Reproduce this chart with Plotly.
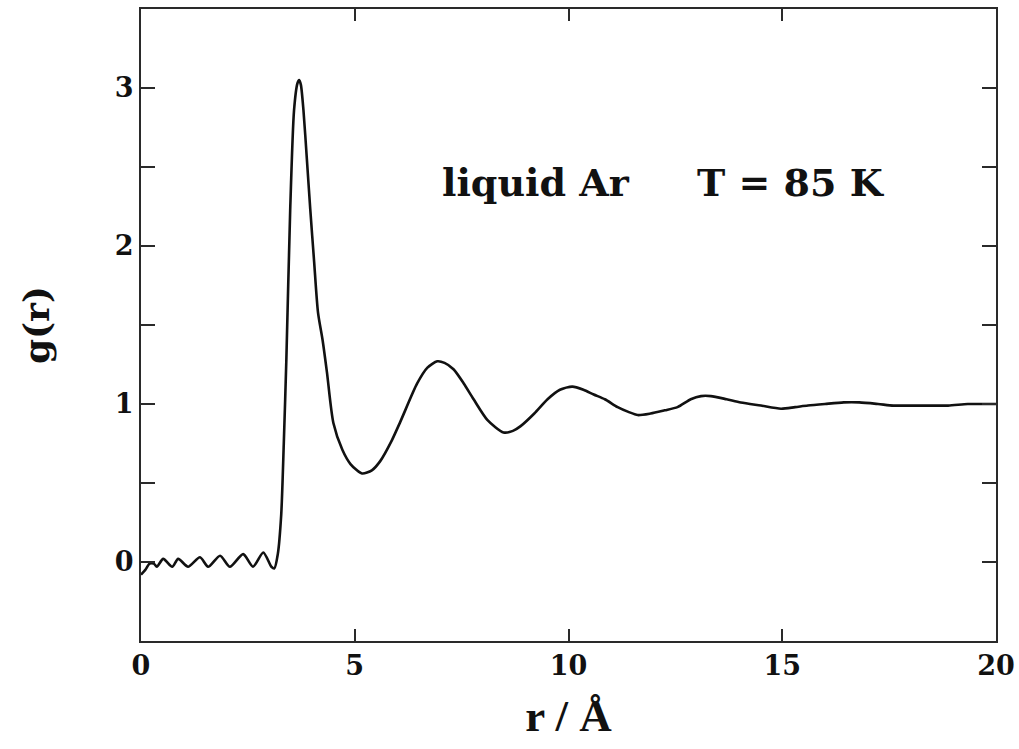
import plotly.graph_objects as go

# Radial distribution function of liquid argon at 85 K
r_vals = [0.00, 0.10, 0.20, 0.30, 0.37, 0.52, 0.73, 0.87, 1.10, 1.38, 1.57, 1.85,
          2.08, 2.39, 2.62, 2.86, 3.05, 3.12, 3.20, 3.28, 3.34, 3.40, 3.49, 3.58,
          3.66, 3.70, 3.74, 3.80, 3.88, 3.96, 4.05, 4.14, 4.25, 4.35, 4.50, 4.71,
          4.90, 5.17, 5.40, 5.60, 5.85, 6.07, 6.46, 6.70, 6.93, 7.10, 7.31, 7.55,
          7.78, 8.10, 8.48, 8.70, 8.88, 9.20, 9.51, 9.80, 10.09, 10.35, 10.59, 10.85,
          11.15, 11.40, 11.62, 11.92, 12.25, 12.55, 12.86, 13.10, 13.33, 13.70, 14.03,
          14.50, 14.97, 15.30, 15.60, 16.00, 16.44, 16.80, 17.24, 17.60, 17.94, 18.40,
          18.88, 19.34, 19.70, 20.00]
g_vals = [-0.08, -0.05, -0.01, -0.01, -0.03, 0.02, -0.03, 0.02, -0.03, 0.03, -0.03, 0.04,
          -0.03, 0.05, -0.03, 0.06, -0.03, -0.04, 0.05, 0.30, 0.75, 1.28, 2.23, 2.86,
          3.03, 3.05, 3.02, 2.86, 2.55, 2.23, 1.90, 1.58, 1.40, 1.20, 0.88, 0.71,
          0.62, 0.56, 0.58, 0.64, 0.76, 0.89, 1.13, 1.23, 1.27, 1.26, 1.22, 1.13,
          1.03, 0.90, 0.82, 0.83, 0.86, 0.94, 1.03, 1.09, 1.11, 1.09, 1.06, 1.03,
          0.98, 0.95, 0.93, 0.94, 0.96, 0.98, 1.03, 1.05, 1.05, 1.03, 1.01,
          0.99, 0.97, 0.98, 0.99, 1.00, 1.01, 1.01, 1.00, 0.99, 0.99, 0.99,
          0.99, 1.00, 1.00, 1.00]

x_ticks = [0, 5, 10, 15, 20]
y_ticks = [-0.5, 0, 0.5, 1, 1.5, 2, 2.5, 3, 3.5]
y_labels = ["", "0", "", "1", "", "2", "", "3", ""]

FONT = "DejaVu Serif"
TITLE_FONT = "Liberation Serif"
AXIS_COLOR = "#2a2a2a"

fig = go.Figure()
fig.add_trace(go.Scatter(
    x=r_vals, y=g_vals, mode="lines",
    line=dict(color="#111111", width=2.6, shape="spline", smoothing=0.7),
    showlegend=False, hoverinfo="skip",
))

fig.add_annotation(text="<b>liquid Ar</b>", x=0.35, y=0.725, xref="paper", yref="paper",
                   xanchor="left", yanchor="middle", showarrow=False,
                   font=dict(family=FONT, size=38, color="#111111"))
fig.add_annotation(text="<b>T = 85 K</b>", x=0.648, y=0.725, xref="paper", yref="paper",
                   xanchor="left", yanchor="middle", showarrow=False,
                   font=dict(family=FONT, size=38, color="#111111"))

fig.update_layout(
    width=1019, height=749,
    margin=dict(l=141, r=23, t=9, b=108),
    paper_bgcolor="white", plot_bgcolor="white",
    font=dict(family=FONT, color="#111111"),
    xaxis=dict(
        range=[0, 20], tickvals=x_ticks, ticks="inside", ticklen=12, tickwidth=2,
        tickcolor=AXIS_COLOR, showline=True, linecolor=AXIS_COLOR, linewidth=2,
        mirror="allticks", showgrid=False, zeroline=False, automargin=False,
        tickfont=dict(family=FONT, size=27, weight="bold"),
        title=dict(text="<b>r / Å</b>", font=dict(family=TITLE_FONT, size=45), standoff=19),
    ),
    yaxis=dict(
        range=[-0.5, 3.5], tickvals=y_ticks, ticktext=y_labels, ticks="inside",
        ticklen=14, tickwidth=2, tickcolor=AXIS_COLOR, showline=True,
        linecolor=AXIS_COLOR, linewidth=2, mirror="allticks", showgrid=False,
        zeroline=False, automargin=False, tickfont=dict(family=FONT, size=27, weight="bold"),
        title=dict(text="<b>g(r)</b>", font=dict(family=FONT, size=36), standoff=54),
    ),
)

fig.write_html("out.html")
